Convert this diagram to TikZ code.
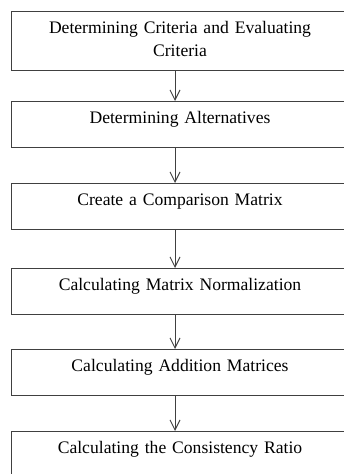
\documentclass[tikz,border=0pt]{standalone}
\usepackage{fontspec}
\setmainfont{Liberation Serif}
\usepackage{tikz}
\usetikzlibrary{arrows.meta}
\usetikzlibrary{positioning}

\tikzset{
    stepbox/.style={draw=black!75, line width=0.75pt, anchor=north, text width=253.5pt-1.5pt,
        align=center, inner xsep=0.75pt, inner ysep=0pt, text height=16.5pt, text depth=18pt,
        font=\fontsize{13.2}{17.25}\selectfont, text=black},
    flow/.style={draw=black!75, line width=0.75pt, -{Straight Barb[length=7.5pt, width=7.5pt]}}
}

\begin{document}
\begin{tikzpicture}[x=0.75pt, y=-0.75pt]
    \useasboundingbox (0, 0) rectangle (343, 474);

    \node[stepbox, text depth=27.75pt] (criteria) at (180, 11) {Determining Criteria and Evaluating\\Criteria};
    \node[stepbox] (alternatives) at (180, 101) {Determining Alternatives};
    \node[stepbox] (comparison) at (180, 183) {Create a Comparison Matrix};
    \node[stepbox] (normalization) at (180, 268) {Calculating Matrix Normalization};
    \node[stepbox] (addition) at (180, 349) {Calculating Addition Matrices};
    \node[stepbox] (consistency) at (180, 431) {Calculating the Consistency Ratio};

    \draw[flow] ([xshift=-3.75pt]criteria.south) -- ([xshift=-3.75pt]alternatives.north);
    \draw[flow] ([xshift=-3.75pt]alternatives.south) -- ([xshift=-3.75pt]comparison.north);
    \draw[flow] ([xshift=-3.75pt]comparison.south) -- ([xshift=-3.75pt]normalization.north);
    \draw[flow] ([xshift=-3.75pt]normalization.south) -- ([xshift=-3.75pt]addition.north);
    \draw[flow] ([xshift=-3.75pt]addition.south) -- ([xshift=-3.75pt]consistency.north);
\end{tikzpicture}
\end{document}
